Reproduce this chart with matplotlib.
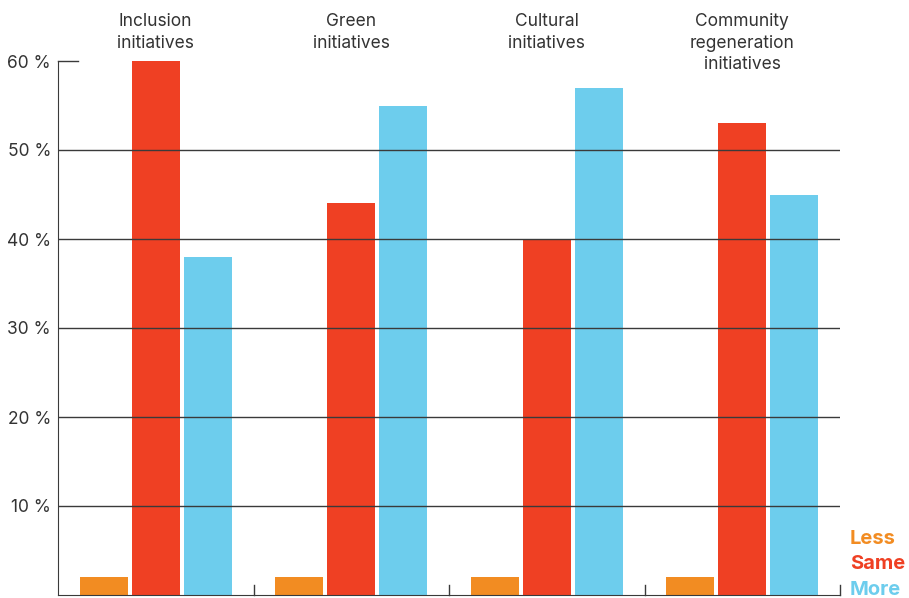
import numpy as np
import matplotlib.pyplot as plt

groups = ["Inclusion\ninitiatives", "Green\ninitiatives", "Cultural\ninitiatives",
          "Community\nregeneration\ninitiatives"]
less = [2, 2, 2, 2]
same = [60, 44, 40, 53]
more = [38, 55, 57, 45]
yticks = [10, 20, 30, 40, 50, 60]
ytick_labels = ["10 %", "20 %", "30 %", "40 %", "50 %", "60 %"]

c_less = "#F28C22"
c_same = "#EF4023"
c_more = "#6DCDED"
c_text = "#333333"
c_line = "#3a3a3a"

plt.rcParams['font.family'] = ['Inter', 'DejaVu Sans']

fig = plt.figure(figsize=(9.09, 5.98), dpi=100)
ax = fig.add_axes([58/909, 3/598, 782/909, 534/598])

x = np.arange(len(groups))
w = 0.245
off = 0.265
ax.bar(x - off, less, w, color=c_less, zorder=2)
ax.bar(x, same, w, color=c_same, zorder=2)
ax.bar(x + off, more, w, color=c_more, zorder=2)

ax.set_xlim(-0.5, 3.5)
ax.set_ylim(0, 60)

# gridlines on top of bars
for v in yticks[:-1]:
    ax.axhline(v, color=c_line, lw=1, zorder=3)
ax.plot([-0.5, -0.4], [60, 60], color=c_line, lw=1, clip_on=False, zorder=3)

# group separator ticks on the baseline
for s in [0.5, 1.5, 2.5, 3.5]:
    ax.plot([s, s], [0, 1.1], color=c_line, lw=1, clip_on=False, zorder=3)

for sp in ["top", "right"]:
    ax.spines[sp].set_visible(False)
ax.spines["left"].set_color(c_line)
ax.spines["bottom"].set_color(c_line)
ax.spines["bottom"].set_bounds(-0.5, 3.5)

ax.set_xticks([])
ax.set_yticks(yticks)
ax.set_yticklabels(ytick_labels, fontsize=12.5, color=c_text)
ax.tick_params(axis="y", length=0, pad=5)

for i, g in enumerate(groups):
    ax.text(i, 1.0 + 48/534, g, transform=ax.get_xaxis_transform(), ha="center", va="top",
            fontsize=12.5, color=c_text, linespacing=1.35, clip_on=False)

fig.text(850/909, 1 - 539/598, "Less", color=c_less, fontsize=14.5, fontweight="bold",
         ha="left", va="center")
fig.text(850/909, 1 - 564/598, "Same", color=c_same, fontsize=14.5, fontweight="bold",
         ha="left", va="center")
fig.text(850/909, 1 - 590/598, "More", color=c_more, fontsize=14.5, fontweight="bold",
         ha="left", va="center")

fig.savefig("out.png", dpi=100)
